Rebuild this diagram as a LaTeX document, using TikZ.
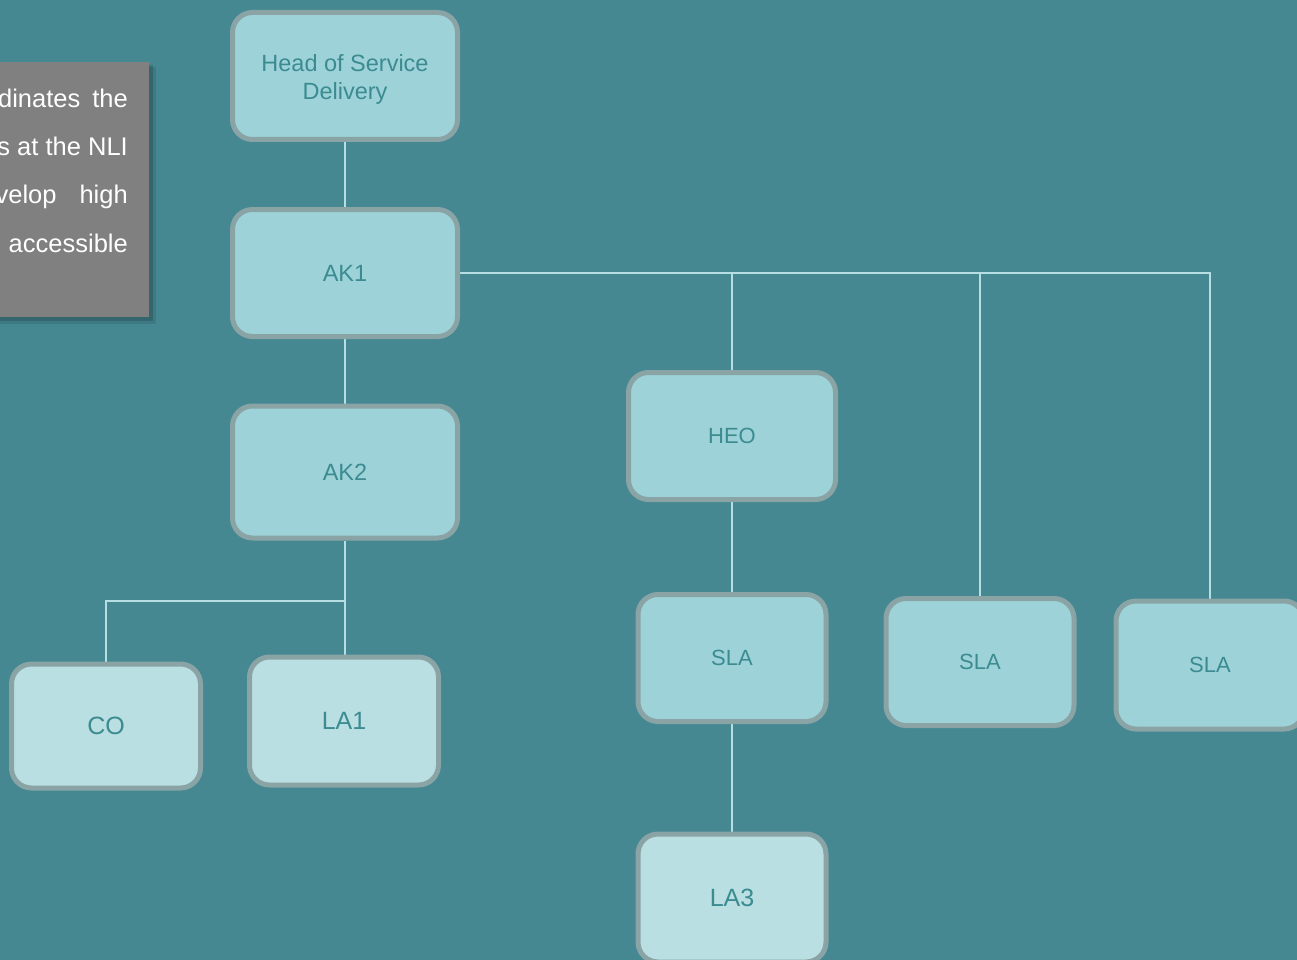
\documentclass[tikz,border=0pt]{standalone}
\usepackage{fontspec}
\setmainfont{Liberation Sans}
\usetikzlibrary{backgrounds}
\definecolor{bgteal}{HTML}{458892}
\definecolor{boxdark}{HTML}{9DD3D8}
\definecolor{boxlight}{HTML}{B9DFE2}
\definecolor{boxrim}{HTML}{8AA4A6}
\definecolor{labeltxt}{HTML}{3B8B91}
\definecolor{wire}{HTML}{B7DFE3}
\definecolor{notegray}{HTML}{808080}
\tikzset{
  unit/.style={draw=boxrim, line width=5pt, rounded corners=20pt, fill=boxdark,
    text=labeltxt, align=center, inner sep=0pt, font=\fontsize{23.5}{28}\selectfont},
  leaf/.style={unit, fill=boxlight, font=\fontsize{25}{28}\selectfont},
  small/.style={font=\fontsize{22}{26}\selectfont},
  link/.style={draw=wire, line width=1.6pt},
  notetext/.style={text=white, anchor=base east, inner sep=0pt, font=\fontsize{25.5}{28}\selectfont}
}
\begin{document}
\begin{tikzpicture}[x=1pt,y=-1pt]
\useasboundingbox (0,0) rectangle (1297,960);

% management chain
\node[unit, minimum width=225pt, minimum height=127pt] (head) at (345,76)
  {\raisebox{-4pt}[\height][\depth]{\begin{tabular}{@{}c@{}}Head of Service\\Delivery\end{tabular}}};
\node[unit, minimum width=225pt, minimum height=127pt] (ak1) at (345,273) {AK1};
\node[unit, minimum width=225pt, minimum height=132pt] (ak2) at (345,472) {AK2};

% team under AK2
\node[leaf, minimum width=189pt, minimum height=124pt] (co) at (106,726) {CO};
\node[leaf, minimum width=189pt, minimum height=128pt] (la1) at (344,721) {LA1};

% team under AK1
\node[unit, small, minimum width=207pt, minimum height=127pt] (heo) at (732,436) {HEO};
\node[unit, small, minimum width=188pt, minimum height=127pt] (sla1) at (732,658) {SLA};
\node[unit, small, minimum width=188pt, minimum height=127pt] (sla2) at (980,662) {SLA};
\node[unit, small, minimum width=188pt, minimum height=128pt] (sla3) at (1210,665) {SLA};
\node[leaf, minimum width=188pt, minimum height=128pt] (la3) at (732,898) {LA3};

\begin{scope}[on background layer]
  \fill[bgteal] (0,0) rectangle (1297,960);

  % side note panel with its shadow
  \fill[black, opacity=0.10] (-5,67) rectangle (156,324);
  \fill[black, opacity=0.16] (-5,65) rectangle (153,321);
  \fill[notegray] (-5,62) rectangle (149,317);
  \node[notetext] (n1) at (128,108) {dinates\hspace{12pt}the};
  \node[notetext] (n2) at (128,156) {s at the NLI};
  \node[notetext] (n3) at (128,204) {velop\hspace{23pt}high};
  \node[notetext] (n4) at (128,252) {accessible};

  % reporting lines
  \draw[link] (head.south) -- (ak1.north);
  \draw[link] (ak1.south) -- (ak2.north);
  \coordinate (fork) at (ak2.south |- 0,601);
  \draw[link] (ak2.south) -- (fork) -| (co.north);
  \draw[link] (fork) -- (fork |- la1.north);
  \draw[link] (ak1.east) -- (ak1.east -| sla3.north) -- (sla3.north);
  \draw[link] (ak1.east -| heo.north) -- (heo.north);
  \draw[link] (ak1.east -| sla2.north) -- (sla2.north);
  \draw[link] (heo.south) -- (sla1.north);
  \draw[link] (sla1.south) -- (la3.north);
\end{scope}
\end{tikzpicture}
\end{document}
